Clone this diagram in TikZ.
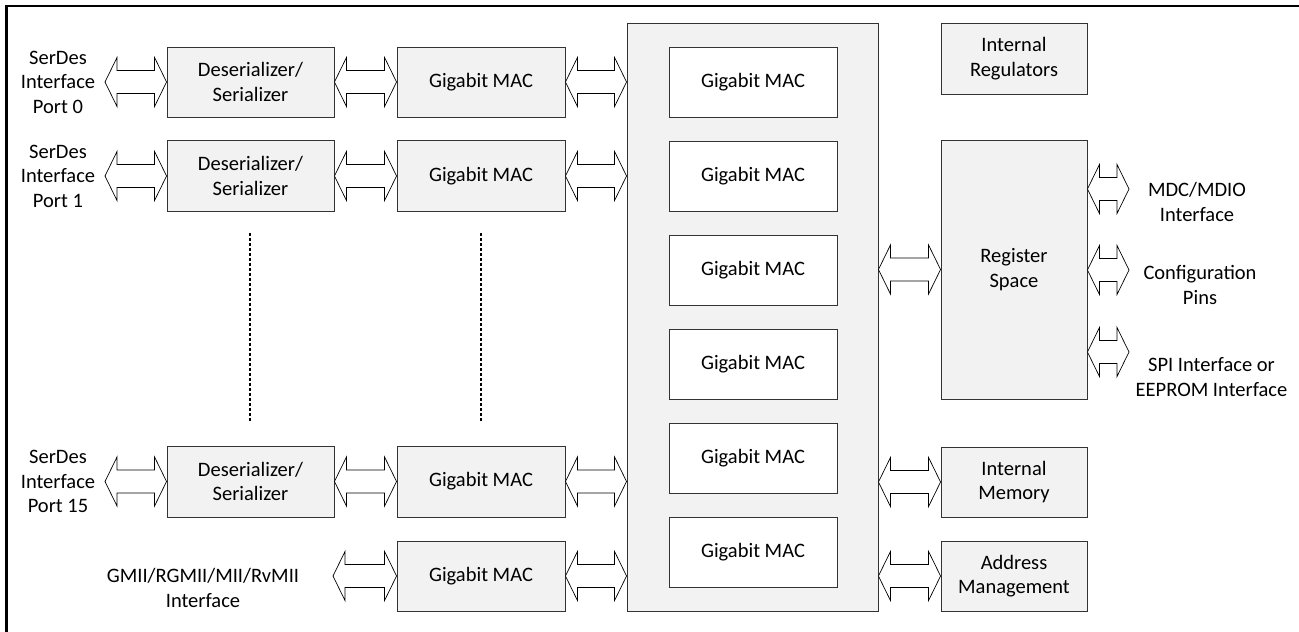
\documentclass[tikz,border=0pt]{standalone}
\usepackage{fontspec}
\setmainfont{Carlito}
\usetikzlibrary{calc}
\definecolor{boxgray}{RGB}{242,242,242}
\tikzset{
  txt/.style={font=\fontsize{20.5}{24.5}\selectfont, align=center, inner sep=0pt},
  gbox/.style={txt, draw=black!80, line width=0.9pt, fill=boxgray, minimum width=167pt, minimum height=70pt},
  wbox/.style={txt, draw=black!80, line width=0.9pt, fill=white, minimum width=168pt, minimum height=70pt},
  barrow/.style={draw=black, line width=0.7pt, fill=white, line join=miter},
  dotline/.style={draw=black, line width=1.6pt, dash pattern=on 3.2pt off 1.8pt},
  frame/.style={draw=black, line width=2.6pt}
}
\newcommand\blockarrow[2]{%
  \path[barrow] let \p1=(#1), \p2=(#2) in
    (\x1,\y1) -- (\x1+12pt,\y1+24.5pt) -- (\x1+12pt,\y1+11.5pt) -- (\x2-12pt,\y1+11.5pt)
    -- (\x2-12pt,\y1+24.5pt) -- (\x2,\y1) -- (\x2-12pt,\y1-24.5pt) -- (\x2-12pt,\y1-11.5pt)
    -- (\x1+12pt,\y1-11.5pt) -- (\x1+12pt,\y1-24.5pt) -- cycle;}
\begin{document}
\begin{tikzpicture}[x=1pt, y=-1pt]
\useasboundingbox (0,0) rectangle (1299,632);
% frame
\coordinate (ftl) at (6.5,6);
\coordinate (ftr) at (1299,6);
\coordinate (fbl) at (6.5,632);
\draw[frame] (ftr) -- (ftl) -- (fbl);

% big switch block
\node[gbox, minimum width=251pt, minimum height=588pt] (big) at (752.5,317) {};

% left column
\node[gbox] (des0) at (250.5,82) {Deserializer/\\Serializer};
\node[gbox, minimum height=71pt] (des1) at (250.5,176) {Deserializer/\\Serializer};
\node[gbox, minimum height=71pt] (des15) at (250.5,481.5) {Deserializer/\\Serializer};

\node[gbox, minimum width=168pt] (mac0) at (481,82) {Gigabit MAC};
\node[gbox, minimum width=168pt, minimum height=71pt] (mac1) at (481,176) {Gigabit MAC};
\node[gbox, minimum width=168pt, minimum height=71pt] (mac15) at (481,481.5) {Gigabit MAC};
\node[gbox, minimum width=168pt] (macg) at (481,576) {Gigabit MAC};

% inner MACs
\node[wbox] (in0) at (753,82) {Gigabit MAC};
\node[wbox] (in1) at (753,176) {Gigabit MAC};
\node[wbox] (in2) at (753,270) {Gigabit MAC};
\node[wbox] (in3) at (753,364) {Gigabit MAC};
\node[wbox] (in4) at (753,458) {Gigabit MAC};
\node[wbox] (in5) at (753,552) {Gigabit MAC};

% right column
\node[gbox, minimum width=146pt, minimum height=71pt] (reg) at (1014,58.5) {Internal\\Regulators};
\node[gbox, minimum width=146pt, minimum height=259pt] (rs) at (1014,269.5) {Register\\Space};
\node[gbox, minimum width=146pt] (im) at (1014,482) {Internal\\Memory};
\node[gbox, minimum width=146pt] (am) at (1014,576) {Address\\Management};

% labels
\node[txt] (p0) at (58,82) {SerDes\\Interface\\Port 0};
\node[txt] (p1) at (58,176) {SerDes\\Interface\\Port 1};
\node[txt] (p15) at (58,481.5) {SerDes\\Interface\\Port 15};
\node[txt] (gmii) at (203,588) {GMII/RGMII/MII/RvMII\\Interface};
\node[txt] (mdc) at (1197,202) {MDC/MDIO\\Interface};
\node[txt] (cfg) at (1200,285) {Configuration\\Pins};
\node[txt] (spi) at (1211.5,377) {SPI Interface or\\EEPROM Interface};

% free arrow ends
\coordinate (a0) at (105,82);
\coordinate (a1) at (105,176);
\coordinate (a15) at (105,481.5);
\coordinate (ag) at (333,576);
\coordinate (amdc) at (1129,189);
\coordinate (acfg) at (1129,270);
\coordinate (aspi) at (1129,352);

% block arrows
\blockarrow{a0}{des0.west}
\blockarrow{a1}{des1.west}
\blockarrow{a15}{des15.west}
\blockarrow{ag}{macg.west}
\blockarrow{des0.east}{mac0.west}
\blockarrow{des1.east}{mac1.west}
\blockarrow{des15.east}{mac15.west}
\blockarrow{mac0.east}{big.west |- mac0}
\blockarrow{mac1.east}{big.west |- mac1}
\blockarrow{mac15.east}{big.west |- mac15}
\blockarrow{macg.east}{big.west |- macg}
\blockarrow{big.east |- rs}{rs.west}
\blockarrow{big.east |- im}{im.west}
\blockarrow{big.east |- am}{am.west}
\blockarrow{rs.east |- amdc}{amdc}
\blockarrow{rs.east |- acfg}{acfg}
\blockarrow{rs.east |- aspi}{aspi}

% ellipsis lines
\draw[dotline] ($(des1.south)+(-0.5,21)$) -- ($(des15.north)+(-0.5,-23)$);
\draw[dotline] ($(mac1.south)+(0,21)$) -- ($(mac15.north)+(0,-23)$);
\end{tikzpicture}
\end{document}
